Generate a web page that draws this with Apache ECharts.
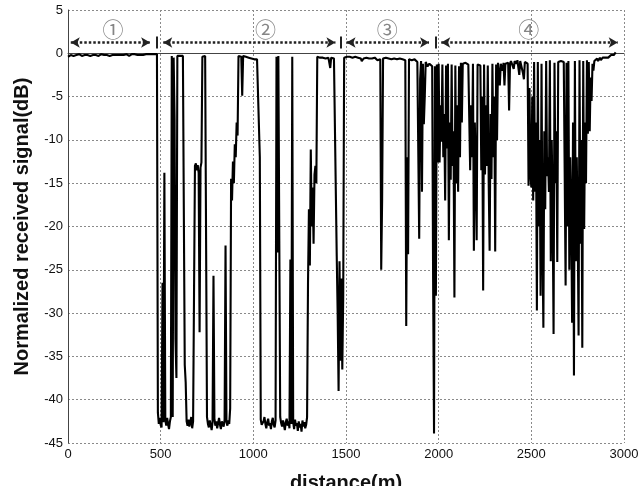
<!DOCTYPE html>
<html>
<head>
<meta charset="utf-8">
<script src="https://cdn.jsdelivr.net/npm/echarts@6/dist/echarts.min.js"></script>
<style>
  html, body { margin: 0; padding: 0; background: #fff; }
  #chart { width: 638px; height: 486px; }
</style>
</head>
<body>
<div id="chart"></div>
<script>
// sampling step of the measured trace, metres
const stepM = 5;

// normalized received signal (dB), one value every 5 m starting at 0 m
const signal = [
  /* 0    */ -0.4, -0.3, -0.2, -0.2, -0.1, -0.2, -0.3, -0.2, -0.1, -0.2,
  /* 50   */ -0.3, -0.2, -0.1, -0.1, -0.2, -0.3, -0.2, -0.1, -0.2, -0.2,
  /* 100  */ -0.1, -0.2, -0.3, -0.4, -0.3, -0.2, -0.1, -0.2, -0.3, -0.2,
  /* 150  */ -0.2, -0.1, -0.2, -0.3, -0.2, -0.2, -0.1, -0.2, -0.3, -0.2,
  /* 200  */ -0.1, -0.2, -0.2, -0.3, -0.4, -0.3, -0.2, -0.1, -0.2, -0.2,
  /* 250  */ -0.3, -0.2, -0.1, -0.1, -0.2, -0.3, -0.2, -0.2, -0.1, -0.2,
  /* 300  */ -0.2, -0.3, -0.2, -0.1, -0.1, -0.2, -0.3, -0.2, -0.1, -0.1,
  /* 350  */ -0.2, -0.2, -0.1, -0.2, -0.3, -0.2, -0.1, -0.1, -0.2, -0.1,
  /* 400  */ -0.1, -0.2, -0.1, 0, -0.1, -0.2, -0.1, -0.1, 0, -0.1,
  /* 450  */ -0.1, 0, -0.1, -0.1, 0, -0.1, -0.1, -41.5, -42.8, -42.1,
  /* 500  */ -42.9, -43.2, -26.5, -42.6, -13.8, -42.3, -43.0, -42.1, -42.8, -43.4,
  /* 550  */ -42.5, -42.0, -0.3, -42.0, -0.5, -7.5, -33.0, -37.5, -0.3, -0.3,
  /* 600  */ -0.2, -0.3, -0.4, -0.3, -0.3, -0.4, -36.0, -38.0, -42.5, -43.0,
  /* 650  */ -42.3, -43.1, -42.6, -42.0, -43.3, -42.5, -27.8, -13.0, -12.7, -13.5,
  /* 700  */ -12.9, -13.8, -32.2, -13.2, -12.6, -0.4, -0.3, -0.2, -0.3, -0.4,
  /* 750  */ -42.0, -42.8, -43.2, -42.4, -42.9, -43.5, -42.6, -25.7, -42.2, -43.0,
  /* 800  */ -42.5, -43.3, -42.7, -42.1, -42.9, -43.4, -42.5, -42.8, -43.1, -42.3,
  /* 850  */ -22.2, -42.6, -43.0, -42.4, -42.8, -41.0, -14.5, -17.0, -12.5, -15.0,
  /* 900  */ -10.5, -12.0, -8.0, -9.5, -0.3, -0.2, -0.3, -0.4, -4.9, -0.3,
  /* 950  */ -0.4, -0.5, -0.4, -0.5, -0.6, -0.5, -0.6, -0.7, -0.6, -0.7,
  /* 1000 */ -0.8, -0.7, -0.6, -0.8, -0.7, -0.9, -0.8, -12.0, -42.3, -42.9,
  /* 1050 */ -43.1, -42.5, -42.0, -42.8, -43.3, -42.6, -42.2, -43.0, -42.7, -43.4,
  /* 1100 */ -42.5, -42.1, -42.9, -43.2, -42.4, -0.4, -23.0, -0.3, -0.5, -42.0,
  /* 1150 */ -42.7, -43.1, -42.4, -42.9, -43.5, -42.6, -42.2, -43.0, -42.5, -43.3,
  /* 1200 */ -23.8, -42.8, -0.4, -42.6, -43.4, -42.3, -43.0, -42.7, -43.6, -42.5,
  /* 1250 */ -43.2, -42.8, -43.7, -42.4, -43.1, -42.6, -43.3, -42.9, -42.0, -26.6,
  /* 1300 */ -18.0, -24.5, -11.1, -20.0, -15.5, -22.0, -14.0, -13.0, -15.0, -0.4,
  /* 1350 */ -0.3, -0.4, -0.5, -0.4, -0.3, -0.5, -0.4, -0.5, -0.6, -0.5,
  /* 1400 */ -0.4, -0.5, -0.6, -1.7, -0.5, -0.4, -0.5, -0.6, -0.5, -0.7,
  /* 1450 */ -23.4, -30.0, -39.0, -24.0, -35.5, -26.0, -36.5, -28.0, -0.5, -0.4,
  /* 1500 */ -0.3, -0.4, -0.3, -0.5, -0.4, -0.3, -0.4, -0.5, -0.4, -0.3,
  /* 1550 */ -0.4, -0.5, -0.6, -0.5, -0.4, -0.5, -0.6, -0.9, -0.7, -0.6,
  /* 1600 */ -0.5, -0.6, -0.5, -0.4, -0.5, -0.6, -0.5, -0.7, -0.6, -0.5,
  /* 1650 */ -0.6, -0.5, -0.7, -0.6, -0.8, -0.7, -0.6, -0.7, -25.0, -16.8,
  /* 1700 */ -0.6, -0.7, -0.6, -0.5, -0.6, -0.7, -0.6, -0.5, -0.6, -0.7,
  /* 1750 */ -0.6, -0.5, -0.6, -0.7, -0.8, -0.7, -0.6, -0.7, -0.6, -0.5,
  /* 1800 */ -0.6, -0.7, -0.6, -0.7, -0.8, -31.5, -12.0, -23.2, -0.7, -0.6,
  /* 1850 */ -0.7, -0.8, -0.7, -0.6, -0.7, -0.9, -0.8, -1.0, -1.1, -21.4,
  /* 1900 */ -3.0, -0.9, -16.0, -1.2, -8.2, -5.0, -1.0, -1.2, -1.5, -1.3,
  /* 1950 */ -1.2, -1.4, -1.3, -1.5, -26.0, -43.9, -1.5, -28.0, -1.3, -12.6,
  /* 2000 */ -1.2, -12.6, -6.0, -10.2, -1.3, -12.0, -7.0, -17.0, -1.4, -11.0,
  /* 2050 */ -1.2, -21.6, -8.0, -14.6, -1.3, -13.0, -9.0, -28.2, -1.4, -15.0,
  /* 2100 */ -6.0, -16.0, -1.5, -12.0, -1.1, -8.0, -1.2, -1.0, -1.3, -1.1,
  /* 2150 */ -1.2, -1.0, -1.3, -1.1, -13.5, -6.0, -12.0, -1.2, -22.8, -8.0,
  /* 2200 */ -13.0, -21.6, -1.3, -1.1, -1.2, -1.4, -13.5, -5.0, -27.4, -1.3,
  /* 2250 */ -14.0, -6.0, -13.0, -1.4, -15.0, -22.8, -7.0, -14.5, -1.2, -12.0,
  /* 2300 */ -5.0, -22.9, -1.3, -10.0, -1.1, -1.3, -3.7, -1.2, -1.0, -2.0,
  /* 2350 */ -1.1, -3.7, -1.2, -1.0, -1.3, -1.1, -6.6, -1.2, -0.9, -1.1,
  /* 2400 */ -1.0, -1.8, -0.9, -1.0, -1.2, -0.8, -1.0, -2.5, -0.9, -1.0,
  /* 2450 */ -0.9, -2.3, -3.0, -1.0, -0.8, -1.0, -1.2, -15.3, -4.0, -14.0,
  /* 2500 */ -15.5, -5.0, -17.0, -1.0, -16.0, -8.0, -29.7, -1.0, -20.0, -10.0,
  /* 2550 */ -28.0, -1.2, -22.0, -31.7, -9.0, -18.0, -0.9, -14.2, -12.0, -16.0,
  /* 2600 */ -0.8, -24.0, -10.0, -18.0, -32.4, -1.1, -15.0, -9.0, -24.1, -1.0,
  /* 2650 */ -0.8, -1.0, -0.9, -1.1, -0.8, -1.0, -0.9, -26.8, -1.1, -20.0,
  /* 2700 */ -0.9, -25.0, -12.0, -18.0, -31.1, -8.0, -37.2, -0.9, -24.0, -12.0,
  /* 2750 */ -20.0, -32.6, -0.8, -22.0, -10.0, -34.0, -0.9, -20.3, -8.0, -15.0,
  /* 2800 */ -0.8, -9.3, -1.0, -9.0, -2.8, -5.5, -1.2, -2.0, -0.9, -0.7,
  /* 2850 */ -0.8, -0.6, -0.9, -0.7, -0.5, -0.8, -0.6, -0.5, -0.7, -0.4,
  /* 2900 */ -0.5, -0.6, -0.4, -0.5, -0.3, -0.4, -0.2, -0.3, -0.1, -0.2,
  /* 2950 */ 0.0, 0.1,
];

// zone annotations above the trace
const zoneNames = ['①', '②', '③', '④'];
const zoneLabelX = [243, 1065, 1722, 2486];
const zoneArrowStart = [15, 514, 1503, 2014];
const zoneArrowEnd = [443, 1443, 1948, 2966];
const zoneBoundaries = [479, 1470, 1984];
const arrowY = 1.25;
const labelY = 2.8;

const xTicks = { min: 0, max: 3000, interval: 500 };
const yTicks = { min: -45, max: 5, interval: 5 };

const chart = echarts.init(document.getElementById('chart'));

const trace = signal.map((v, i) => [i * stepM, v]);

const arrowLines = zoneArrowStart.map((x0, i) => [
  { coord: [x0, arrowY] },
  { coord: [zoneArrowEnd[i], arrowY] },
]);
const boundaryLines = zoneBoundaries.map((x) => [
  { coord: [x, arrowY - 0.7], symbol: 'none', lineStyle: { type: 'solid', width: 2, color: '#222' } },
  { coord: [x, arrowY + 0.7], symbol: 'none' },
]);

const axisText = { color: '#111', fontSize: 13, fontFamily: 'Liberation Sans, Arial, sans-serif' };
const gridLine = { show: true, lineStyle: { color: '#8a8a8a', type: [2, 2], width: 1 } };

chart.setOption({
  animation: false,
  backgroundColor: '#fff',
  grid: { left: 68, right: 14, top: 10, bottom: 43, containLabel: false, outerBoundsMode: 'none' },
  xAxis: {
    type: 'value',
    min: xTicks.min,
    max: xTicks.max,
    interval: xTicks.interval,
    name: 'distance(m)',
    nameLocation: 'middle',
    nameGap: 30,
    nameTextStyle: { color: '#111', fontSize: 20, fontWeight: 'bold', fontFamily: 'Liberation Sans, Arial, sans-serif' },
    axisLine: { show: true, lineStyle: { color: '#444', width: 1 } },
    axisTick: { show: false },
    axisLabel: Object.assign({ margin: 5, formatter: (v) => String(v) }, axisText),
    splitLine: gridLine,
  },
  yAxis: {
    type: 'value',
    min: yTicks.min,
    max: yTicks.max,
    interval: yTicks.interval,
    name: 'Normalized received signal(dB)',
    nameLocation: 'middle',
    nameGap: 36,
    nameTextStyle: { color: '#111', fontSize: 20, fontWeight: 'bold', fontFamily: 'Liberation Sans, Arial, sans-serif' },
    axisLine: { show: true, lineStyle: { color: '#444', width: 1 } },
    axisTick: { show: false },
    axisLabel: Object.assign({ margin: 5 }, axisText),
    splitLine: gridLine,
  },
  series: [
    {
      name: 'signal',
      type: 'line',
      data: trace,
      showSymbol: false,
      sampling: 'none',
      lineStyle: { color: '#000', width: 2.1 },
      z: 3,
    },
    {
      // zone arrows and separators
      type: 'line',
      data: [],
      silent: true,
      markLine: {
        silent: true,
        animation: false,
        symbol: ['arrow', 'arrow'],
        symbolSize: [8, 9],
        label: { show: false },
        lineStyle: { color: '#222', width: 2.5, type: [2.5, 2] },
        data: arrowLines.concat(boundaryLines),
      },
      z: 4,
    },
    {
      // circled zone numbers
      type: 'scatter',
      symbolSize: 0,
      silent: true,
      data: zoneNames.map((n, i) => ({ name: n, value: [zoneLabelX[i], labelY] })),
      label: {
        show: true,
        position: 'inside',
        formatter: (p) => p.name,
        color: '#666',
        fontSize: 21,
        fontFamily: 'Noto Sans CJK SC, DejaVu Sans, sans-serif',
      },
      z: 5,
    },
  ],
});
</script>
</body>
</html>
